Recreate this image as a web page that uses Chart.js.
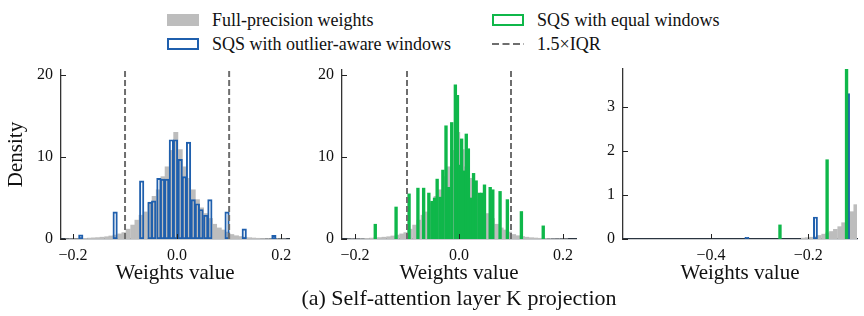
<!DOCTYPE html>
<html>
<head>
<meta charset="utf-8">
<script src="https://cdn.jsdelivr.net/npm/chart.js@4.4.1/dist/chart.umd.min.js"></script>
<style>
  body { margin: 0; background: #fff; }
  #fig { position: relative; width: 864px; height: 316px; overflow: hidden; font-family: "Liberation Serif", serif; color: #111; }
  canvas { position: absolute; top: 60px; }
  .item { position: absolute; font-size: 18px; line-height: 20px; white-space: nowrap; }
  .swatch { position: absolute; box-sizing: border-box; width: 32px; height: 12px; }
  #caption { position: absolute; left: 209px; width: 500px; top: 286px; text-align: center; font-size: 22px; line-height: 24px; }
</style>
</head>
<body>
<div id="fig">
  <div class="swatch" style="left:167px;top:14px;background:#bdbdbd"></div>
  <div class="item" style="left:212px;top:10px">Full-precision weights</div>
  <div class="swatch" style="left:167px;top:38px;border:2px solid #1f5fad"></div>
  <div class="item" style="left:212px;top:34px">SQS with outlier-aware windows</div>
  <div class="swatch" style="left:492px;top:14px;border:2px solid #0fb74a"></div>
  <div class="item" style="left:537px;top:10px">SQS with equal windows</div>
  <svg style="position:absolute;left:492px;top:42px" width="32" height="4"><line x1="0" y1="2" x2="32" y2="2" stroke="#6e6e6e" stroke-width="2" stroke-dasharray="7,3.5"/></svg>
  <div class="item" style="left:537px;top:34px">1.5×IQR</div>
  <canvas id="p1" width="300" height="230" style="left:0"></canvas>
  <canvas id="p2" width="300" height="230" style="left:290px"></canvas>
  <canvas id="p3" width="284" height="230" style="left:580px"></canvas>
  <div id="caption">(a) Self-attention layer K projection</div>
</div>
<script>
// full-precision histogram (bin centres, density)
const greyX = [-0.210, -0.202, -0.193, -0.185, -0.177, -0.168, -0.160, -0.152, -0.144, -0.135,
  -0.127, -0.119, -0.110, -0.102, -0.094, -0.085, -0.077, -0.069, -0.061, -0.052,
  -0.044, -0.036, -0.027, -0.019, -0.011, -0.0025, 0.006, 0.014, 0.022, 0.031,
  0.039, 0.047, 0.056, 0.064, 0.072, 0.081, 0.089, 0.097, 0.105, 0.114,
  0.122, 0.130, 0.139, 0.147, 0.155, 0.164, 0.172, 0.180, 0.189, 0.197, 0.205];
const greyY = [0.02, 0.03, 0.04, 0.05, 0.08, 0.11, 0.14, 0.17, 0.22, 0.28,
  0.37, 0.48, 0.62, 0.78, 1.2, 1.7, 2.3, 2.9, 3.3, 4.4,
  5.2, 6.0, 7.6, 8.8, 10.8, 13.0, 10.9, 8.8, 7.4, 6.0,
  4.8, 3.8, 3.1, 2.5, 1.8, 1.35, 1.1, 0.85, 0.55, 0.4,
  0.3, 0.22, 0.16, 0.12, 0.09, 0.07, 0.05, 0.04, 0.03, 0.02, 0.02];

// SQS with outlier-aware windows
const blueX = [-0.326, -0.185, -0.119, -0.068, -0.052, -0.045, -0.035, -0.028, -0.020, -0.011,
  -0.003, 0.006, 0.014, 0.022, 0.031, 0.039, 0.046, 0.055, 0.063, 0.096, 0.129, 0.186];
const blueY = [0.04, 0.5, 3.3, 7.1, 4.5, 4.65, 7.4, 7.3, 7.3, 12.1,
  12.1, 9.7, 7.6, 11.8, 4.8, 4.3, 3.6, 2.9, 4.8, 3.3, 1.25, 0.45];

// SQS with equal windows
const greenX = [-0.258, -0.161, -0.121, -0.096, -0.079, -0.068, -0.058, -0.052, -0.047, -0.042,
  -0.036, -0.031, -0.025, -0.020, -0.014, -0.007, -0.003, 0.001, 0.005, 0.009,
  0.014, 0.018, 0.023, 0.028, 0.033, 0.039, 0.044, 0.049, 0.060, 0.065,
  0.079, 0.093, 0.120, 0.162];
const greenY = [0.32, 1.8, 3.9, 5.5, 6.2, 6.2, 5.6, 4.6, 5.0, 7.3,
  5.1, 8.4, 13.8, 6.3, 14.2, 18.8, 17.5, 9.0, 12.2, 8.3,
  12.8, 11.0, 5.0, 8.0, 7.1, 5.6, 5.6, 6.6, 6.3, 6.0,
  5.8, 4.8, 3.35, 1.6];

const iqrBounds = [-0.1, 0.1];

const xTicksMain = [-0.2, 0.0, 0.2];
const xTicksTail = [-0.4, -0.2];
const yTicksMain = [0, 10, 20];
const yTicksTail = [0, 1, 2, 3];

const GREY = "#bdbdbd";
const BLUE = "#1f5fad";
const GREEN = "#0fb74a";
const DASH = "#6e6e6e";

Chart.defaults.font.family = "'Liberation Serif', serif";
Chart.defaults.font.size = 16;
Chart.defaults.color = "#111";

const inwardTicks = {
  id: "inwardTicks",
  afterDatasetsDraw(chart) {
    const { ctx, chartArea, scales } = chart;
    ctx.save();
    ctx.strokeStyle = "#222";
    ctx.lineWidth = 1;
    ctx.beginPath();
    scales.x.ticks.forEach((t) => {
      const px = Math.round(scales.x.getPixelForValue(t.value)) + 0.5;
      ctx.moveTo(px, chartArea.bottom);
      ctx.lineTo(px, chartArea.bottom - 5);
    });
    scales.y.ticks.forEach((t) => {
      const py = Math.round(scales.y.getPixelForValue(t.value)) + 0.5;
      ctx.moveTo(chartArea.left, py);
      ctx.lineTo(chartArea.left + 5, py);
    });
    ctx.stroke();
    ctx.restore();
  },
};

function pairs(xs, ys) {
  return xs.map((x, i) => ({ x, y: ys[i] }));
}

function fmtX(v) {
  return (v < 0 ? "\u2212" : "") + Math.abs(v).toFixed(1);
}

function makePanel(cfg) {
  const datasets = [
    {
      label: "Full-precision weights",
      data: pairs(greyX, greyY),
      backgroundColor: GREY,
      borderWidth: 0,
      barThickness: cfg.greyW,
      grouped: false,
      order: 3,
    },
  ];
  if (cfg.blue) {
    datasets.push({
      label: "SQS with outlier-aware windows",
      data: pairs(blueX, blueY),
      backgroundColor: "rgba(0,0,0,0)",
      borderColor: BLUE,
      borderWidth: 1.3,
      borderSkipped: false,
      barThickness: cfg.blueW,
      grouped: false,
      order: 2,
    });
  }
  if (cfg.green) {
    datasets.push({
      label: "SQS with equal windows",
      data: pairs(greenX, greenY),
      backgroundColor: GREEN,
      borderWidth: 0,
      barThickness: 2.7,
      grouped: false,
      order: 1,
    });
  }
  if (cfg.iqr) {
    iqrBounds.forEach((b) => {
      datasets.push({
        type: "line",
        label: "1.5×IQR",
        data: [{ x: b, y: 0 }, { x: b, y: cfg.yMax }],
        borderColor: DASH,
        borderWidth: 2,
        borderDash: [6, 3],
        pointRadius: 0,
        order: 0,
      });
    });
  }

  return new Chart(document.getElementById(cfg.id), {
    type: "bar",
    data: { datasets },
    options: {
      responsive: false,
      animation: false,
      devicePixelRatio: 1,
      layout: { padding: { top: cfg.padTop, right: cfg.padRight, left: 0, bottom: 0 } },
      plugins: { legend: { display: false }, tooltip: { enabled: false } },
      scales: {
        x: {
          type: "linear",
          min: cfg.xMin,
          max: cfg.xMax,
          offset: false,
          grid: { display: false, drawTicks: false },
          border: { display: true, color: "#2b3540", width: 1.3 },
          afterBuildTicks: (s) => { s.ticks = cfg.xTicks.map((v) => ({ value: v })); },
          afterFit: (s) => { s.height = 51; s.paddingLeft = 0; s.paddingRight = 0; },
          ticks: { padding: 7, maxRotation: 0, autoSkip: false, callback: fmtX },
          title: { display: true, text: "Weights value", font: { size: 21 }, padding: { top: 4, bottom: 4 } },
        },
        y: {
          min: 0,
          max: cfg.yMax,
          grid: { display: false, drawTicks: false },
          border: { display: true, color: "#333", width: 1.3 },
          afterBuildTicks: (s) => { s.ticks = cfg.yTicks.map((v) => ({ value: v })); },
          afterFit: (s) => { s.width = cfg.axisW; s.paddingTop = 0; s.paddingBottom = 0; },
          ticks: { padding: 8, autoSkip: false, callback: (v) => String(v) },
          title: { display: !!cfg.yTitle, text: cfg.yTitle || "", font: { size: 21 }, padding: { top: 4, bottom: 4 } },
        },
      },
    },
    plugins: [inwardTicks],
  });
}

makePanel({ id: "p1", xMin: -0.223, xMax: 0.215, yMax: 20.6, xTicks: xTicksMain, yTicks: yTicksMain,
  blue: true, iqr: true, yTitle: "Density", axisW: 61, padTop: 10, padRight: 11, greyW: 4.3, blueW: 4.5 });
makePanel({ id: "p2", xMin: -0.225, xMax: 0.225, yMax: 20.6, xTicks: xTicksMain, yTicks: yTicksMain,
  green: true, iqr: true, axisW: 52, padTop: 10, padRight: 14, greyW: 4.3 });
makePanel({ id: "p3", xMin: -0.581, xMax: -0.0995, yMax: 3.86, xTicks: xTicksTail, yTicks: yTicksTail,
  blue: true, green: true, axisW: 43, padTop: 9, padRight: 7, greyW: 4.0, blueW: 4.2 });
</script>
</body>
</html>
